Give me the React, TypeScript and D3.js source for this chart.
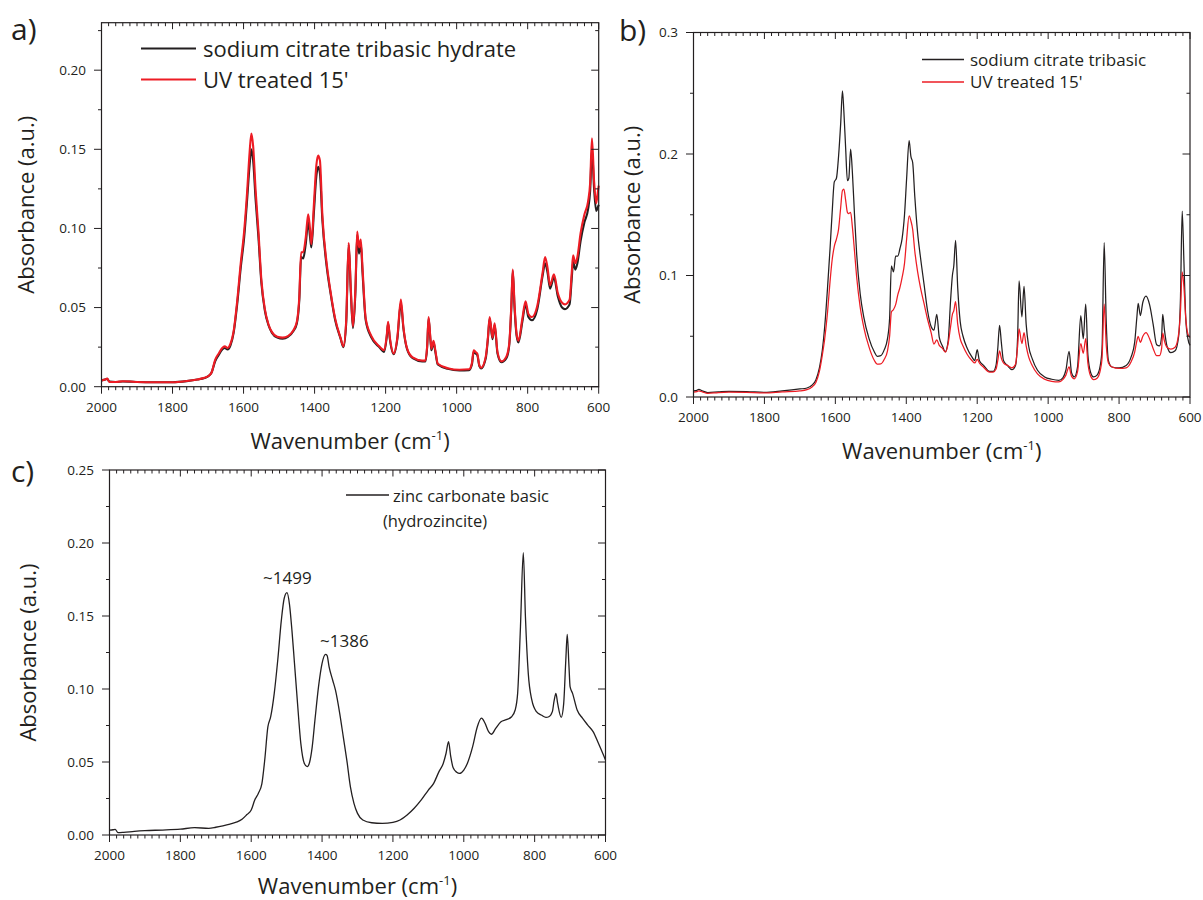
import React, { useRef, useEffect } from 'react'
import * as d3 from 'd3'

// ---- panel a: sodium citrate tribasic hydrate vs UV treated ----
const wnA = [
  2000, 1990, 1984, 1978, 1960, 1940, 1920, 1900, 1850, 1800, 1760, 1730, 1710, 1700, 1690, 1680,
  1670, 1660, 1653, 1645, 1637, 1628, 1618, 1608, 1598, 1590, 1583, 1578, 1573, 1566, 1558, 1550,
  1540, 1530, 1520, 1505, 1490, 1475, 1460, 1450, 1443, 1438, 1432, 1425, 1418, 1413, 1409, 1402,
  1395, 1390, 1385, 1378, 1366, 1355, 1342, 1327, 1319, 1311, 1304, 1298, 1292, 1285, 1280, 1275,
  1270, 1265, 1256, 1240, 1218, 1204, 1197, 1193, 1188, 1177, 1167, 1157, 1150, 1140, 1124, 1097,
  1088, 1083, 1079, 1074, 1071, 1065, 1060, 1053, 1025, 992, 965, 957, 952, 947, 942, 936,
  931, 918, 912, 907, 899, 893, 885, 874, 860, 852, 846, 842, 837, 831, 826, 815,
  806, 798, 788, 773, 758, 751, 744, 737, 726, 715, 703, 695, 682, 676, 672, 666,
  660, 651, 640, 630, 624, 619, 613, 607, 603, 600,
]
const citrateA = [
  0.004, 0.0045, 0.005, 0.0033, 0.003, 0.0033, 0.0032, 0.003, 0.0028, 0.0028, 0.0035, 0.0045, 0.0055, 0.0065, 0.009, 0.016,
  0.02, 0.0235, 0.0245, 0.0235, 0.026, 0.034, 0.052, 0.075, 0.095, 0.118, 0.14, 0.15, 0.143, 0.118, 0.094, 0.066,
  0.048, 0.039, 0.034, 0.031, 0.0303, 0.0315, 0.035, 0.04, 0.055, 0.082, 0.081, 0.09, 0.104, 0.095, 0.088, 0.11,
  0.133, 0.139, 0.135, 0.105, 0.076, 0.059, 0.042, 0.0305, 0.025, 0.04, 0.09, 0.06, 0.037, 0.06, 0.096, 0.084,
  0.091, 0.072, 0.042, 0.031, 0.025, 0.022, 0.031, 0.04, 0.03, 0.0205, 0.03, 0.053, 0.037, 0.024, 0.018, 0.016,
  0.016, 0.025, 0.043, 0.03, 0.023, 0.028, 0.022, 0.014, 0.0113, 0.0103, 0.0105, 0.014, 0.022, 0.021, 0.02, 0.013,
  0.0116, 0.018, 0.03, 0.043, 0.03, 0.039, 0.021, 0.0155, 0.018, 0.026, 0.05, 0.073, 0.05, 0.032, 0.028, 0.041,
  0.052, 0.044, 0.042, 0.049, 0.07, 0.078, 0.072, 0.062, 0.069, 0.057, 0.05, 0.049, 0.052, 0.068, 0.079, 0.074,
  0.078, 0.092, 0.104, 0.112, 0.124, 0.15, 0.125, 0.111, 0.113, 0.115,
]
const uvA = [
  0.004, 0.0045, 0.0052, 0.003, 0.003, 0.0034, 0.0033, 0.003, 0.0028, 0.0028, 0.0036, 0.0046, 0.0056, 0.0066, 0.009, 0.017,
  0.021, 0.0245, 0.0255, 0.0245, 0.027, 0.035, 0.054, 0.078, 0.099, 0.123, 0.148, 0.16, 0.152, 0.124, 0.098, 0.068,
  0.049, 0.0395, 0.0345, 0.0315, 0.031, 0.032, 0.0355, 0.041, 0.057, 0.085, 0.085, 0.094, 0.109, 0.1, 0.09, 0.115,
  0.14, 0.146, 0.143, 0.108, 0.078, 0.06, 0.043, 0.031, 0.0255, 0.042, 0.091, 0.062, 0.038, 0.062, 0.098, 0.088,
  0.093, 0.075, 0.043, 0.032, 0.0255, 0.023, 0.032, 0.041, 0.031, 0.021, 0.031, 0.055, 0.038, 0.0245, 0.0185, 0.0165,
  0.0165, 0.026, 0.044, 0.031, 0.024, 0.029, 0.023, 0.0145, 0.0117, 0.0107, 0.011, 0.015, 0.023, 0.022, 0.021, 0.0135,
  0.012, 0.019, 0.031, 0.044, 0.031, 0.04, 0.022, 0.016, 0.019, 0.027, 0.052, 0.074, 0.052, 0.033, 0.029, 0.043,
  0.054, 0.046, 0.044, 0.051, 0.072, 0.082, 0.075, 0.064, 0.071, 0.059, 0.053, 0.052, 0.055, 0.072, 0.083, 0.078,
  0.082, 0.097, 0.109, 0.117, 0.129, 0.157, 0.13, 0.116, 0.122, 0.127,
]

// ---- panel b: sodium citrate tribasic vs UV treated ----
const wnB = [
  2000, 1990, 1985, 1975, 1960, 1930, 1900, 1850, 1800, 1750, 1700, 1680, 1665, 1655, 1645, 1637,
  1630, 1622, 1615, 1609, 1603, 1597, 1591, 1585, 1580, 1576, 1571, 1566, 1562, 1557, 1552, 1546,
  1540, 1530, 1520, 1505, 1490, 1482, 1472, 1462, 1453, 1447, 1442, 1436, 1430, 1424, 1418, 1412,
  1405, 1399, 1392, 1387, 1382, 1376, 1368, 1360, 1350, 1340, 1330, 1322, 1314, 1307, 1298, 1290,
  1282, 1275, 1270, 1266, 1261, 1255, 1248, 1240, 1228, 1215, 1207, 1200, 1194, 1182, 1165, 1155,
  1147, 1142, 1137, 1132, 1126, 1115, 1102, 1092, 1086, 1082, 1074, 1068, 1062, 1055, 1045, 1030,
  1010, 990, 970, 958, 950, 941, 934, 926, 917, 908, 901, 894, 888, 880, 872, 862,
  853, 848, 842, 836, 830, 820, 800, 780, 766, 756, 750, 746, 740, 733, 724, 714,
  704, 694, 686, 680, 677, 672, 665, 654, 642, 632, 627, 622, 617, 612, 606, 600,
]
const citrateB = [
  0.005, 0.0055, 0.0063, 0.005, 0.0036, 0.0042, 0.0047, 0.0045, 0.0038, 0.005, 0.0066, 0.0074, 0.01, 0.014, 0.024, 0.038,
  0.058, 0.09, 0.122, 0.152, 0.177, 0.18, 0.198, 0.225, 0.252, 0.235, 0.205, 0.178, 0.18, 0.204, 0.185, 0.15,
  0.118, 0.085, 0.066, 0.048, 0.037, 0.0335, 0.034, 0.039, 0.048, 0.065, 0.108, 0.103, 0.116, 0.116, 0.122, 0.13,
  0.15, 0.18, 0.211, 0.198, 0.193, 0.165, 0.135, 0.115, 0.093, 0.071, 0.058, 0.055, 0.068, 0.049, 0.042, 0.0373,
  0.046, 0.08, 0.1, 0.108, 0.129, 0.09, 0.062, 0.05, 0.04, 0.033, 0.03, 0.039, 0.03, 0.026, 0.021, 0.021,
  0.026, 0.04, 0.059, 0.045, 0.03, 0.026, 0.0225, 0.026, 0.05, 0.0955, 0.066, 0.091, 0.06, 0.042, 0.0316, 0.022,
  0.0165, 0.0146, 0.0137, 0.016, 0.022, 0.0375, 0.02, 0.0165, 0.025, 0.067, 0.048, 0.0765, 0.035, 0.02, 0.0165, 0.018,
  0.026, 0.04, 0.127, 0.06, 0.03, 0.0247, 0.024, 0.026, 0.033, 0.045, 0.065, 0.077, 0.067, 0.078, 0.083, 0.076,
  0.06, 0.043, 0.042, 0.05, 0.068, 0.055, 0.042, 0.0365, 0.038, 0.05, 0.08, 0.153, 0.11, 0.065, 0.048, 0.0425,
]
const uvB = [
  0.004, 0.0045, 0.005, 0.0042, 0.003, 0.0037, 0.004, 0.0038, 0.0033, 0.0042, 0.005, 0.006, 0.0085, 0.012, 0.021, 0.034,
  0.048, 0.07, 0.095, 0.113, 0.124, 0.13, 0.138, 0.156, 0.17, 0.171, 0.162, 0.152, 0.151, 0.152, 0.14, 0.12,
  0.099, 0.074, 0.0576, 0.041, 0.03, 0.027, 0.0272, 0.031, 0.038, 0.05, 0.07, 0.072, 0.076, 0.084, 0.09, 0.098,
  0.11, 0.13, 0.149, 0.145, 0.138, 0.12, 0.103, 0.09, 0.077, 0.064, 0.053, 0.0435, 0.047, 0.0425, 0.04, 0.037,
  0.044, 0.058, 0.068, 0.071, 0.0785, 0.06, 0.048, 0.042, 0.035, 0.03, 0.028, 0.031, 0.028, 0.0245, 0.0205, 0.0205,
  0.023, 0.03, 0.038, 0.032, 0.028, 0.026, 0.024, 0.027, 0.042, 0.056, 0.044, 0.053, 0.042, 0.033, 0.026, 0.019,
  0.0146, 0.0129, 0.0124, 0.0145, 0.018, 0.0247, 0.017, 0.015, 0.021, 0.044, 0.036, 0.048, 0.028, 0.017, 0.0143, 0.0155,
  0.022, 0.032, 0.0765, 0.042, 0.028, 0.0247, 0.0235, 0.024, 0.029, 0.037, 0.046, 0.05, 0.045, 0.05, 0.053, 0.048,
  0.04, 0.034, 0.034, 0.04, 0.0525, 0.046, 0.041, 0.0395, 0.041, 0.052, 0.07, 0.103, 0.09, 0.065, 0.052, 0.049,
]

// ---- panel c: zinc carbonate basic (hydrozincite) ----
const wnC = [
  2000, 1990, 1984, 1976, 1960, 1930, 1900, 1850, 1800, 1760, 1720, 1700, 1680, 1660, 1640, 1625,
  1612, 1600, 1590, 1580, 1570, 1562, 1553, 1545, 1535, 1525, 1515, 1507, 1499, 1492, 1485, 1478,
  1470, 1460, 1450, 1442, 1435, 1428, 1420, 1410, 1400, 1390, 1386, 1380, 1370, 1362, 1350, 1340,
  1330, 1320, 1310, 1300, 1285, 1260, 1230, 1200, 1180, 1160, 1140, 1120, 1100, 1085, 1070, 1058,
  1050, 1043, 1037, 1030, 1020, 1012, 1000, 990, 975, 962, 950, 940, 930, 922, 910, 895,
  880, 865, 855, 848, 840, 832, 826, 818, 808, 795, 780, 768, 760, 750, 745, 740,
  735, 725, 718, 712, 708, 703, 700, 693, 680, 665, 650, 635, 620, 600,
]
const zincC = [
  0.0034, 0.0036, 0.0039, 0.0016, 0.0018, 0.0025, 0.003, 0.0034, 0.004, 0.005, 0.0046, 0.0053, 0.0063, 0.0075, 0.009, 0.011,
  0.014, 0.0171, 0.024, 0.0285, 0.035, 0.051, 0.074, 0.081, 0.097, 0.12, 0.147, 0.162, 0.166, 0.158, 0.14, 0.118,
  0.0925, 0.0628, 0.049, 0.0468, 0.05, 0.06, 0.079, 0.1016, 0.1176, 0.1237, 0.123, 0.115, 0.106, 0.099, 0.083, 0.067,
  0.051, 0.033, 0.0217, 0.0148, 0.0103, 0.0084, 0.008, 0.0087, 0.0103, 0.0137, 0.0183, 0.024, 0.0308, 0.0354, 0.0434, 0.049,
  0.056, 0.064, 0.054, 0.046, 0.043, 0.0422, 0.0445, 0.049, 0.0605, 0.074, 0.08, 0.0765, 0.0708, 0.069, 0.073, 0.0776,
  0.079, 0.081, 0.0856, 0.097, 0.1427, 0.1934, 0.1495, 0.1107, 0.0925, 0.0845, 0.082, 0.0806, 0.081, 0.0845, 0.092, 0.097,
  0.09, 0.0806, 0.09, 0.12, 0.1374, 0.115, 0.1016, 0.097, 0.0856, 0.08, 0.0753, 0.0708, 0.0628, 0.0514,
]

const peakLabels = [
  { text: '~1499', wn: 1498, y: 0.172 },
  { text: '~1386', wn: 1337, y: 0.129 },
]

const FONT = '"Open Sans", "Noto Sans", sans-serif'
const INK = '#231f20'
const RED = '#ed1c24'

function drawPanel(svg, p) {
  const x = d3.scaleLinear().domain([2000, 600]).range([p.left, p.right])
  const y = d3.scaleLinear().domain([0, p.yMax]).range([p.bottom, p.top])
  const g = svg.append('g')

  // spectra
  const line = d3.line().x(d => x(d[0])).y(d => y(d[1])).curve(d3.curveMonotoneX)
  p.series.forEach(s => {
    g.append('path')
      .datum(p.wn.map((w, i) => [w, s.values[i]]))
      .attr('d', line)
      .attr('fill', 'none')
      .attr('stroke', s.color)
      .attr('stroke-width', p.lineWidth)
      .attr('stroke-linejoin', 'round')
  })

  // frame
  g.append('rect')
    .attr('x', p.left).attr('y', p.top)
    .attr('width', p.right - p.left).attr('height', p.bottom - p.top)
    .attr('fill', 'none').attr('stroke', INK).attr('stroke-width', 1.2)

  // ticks: bottom/left outward, top/right inward
  const xMajor = d3.range(2000, 599, -200)
  const xMinor = d3.range(2000, 599, -20).filter(v => v % 200 !== 0)
  const tick = (x1, y1, x2, y2) => g.append('line')
    .attr('x1', x1).attr('y1', y1).attr('x2', x2).attr('y2', y2)
    .attr('stroke', INK).attr('stroke-width', 1)
  xMajor.forEach(v => { tick(x(v), p.bottom, x(v), p.bottom + 7); tick(x(v), p.top, x(v), p.top + 6.5) })
  xMinor.forEach(v => { tick(x(v), p.bottom, x(v), p.bottom + 3.5); tick(x(v), p.top, x(v), p.top + 3.5) })
  p.yMajor.forEach(v => { tick(p.left - 7.5, y(v), p.left, y(v)); tick(p.right - 7.5, y(v), p.right, y(v)) })
  p.yMinor.forEach(v => { tick(p.left - 3.5, y(v), p.left, y(v)); tick(p.right - 3.5, y(v), p.right, y(v)) })

  // tick labels
  g.selectAll('.xl').data(xMajor).enter().append('text')
    .attr('x', d => x(d)).attr('y', p.bottom + 25)
    .attr('text-anchor', 'middle')
    .attr('font-size', 13.5).attr('font-family', FONT).attr('fill', INK)
    .text(d => d)
  g.selectAll('.yl').data(p.yMajor).enter().append('text')
    .attr('x', p.left - 15.5).attr('y', d => y(d) + 4.8)
    .attr('text-anchor', 'end')
    .attr('font-size', 13.5).attr('font-family', FONT).attr('fill', INK)
    .text(d => d3.format(p.yFormat)(d))

  // axis titles
  const xt = g.append('text')
    .attr('x', (p.left + p.right) / 2).attr('y', p.bottom + p.xTitleDy)
    .attr('text-anchor', 'middle')
    .attr('font-size', 22).attr('font-family', FONT).attr('fill', INK)
  xt.append('tspan').text('Wavenumber (cm')
  xt.append('tspan').attr('font-size', 13).attr('dy', -9).text('-1')
  xt.append('tspan').attr('dy', 9).text(')')

  g.append('text')
    .attr('transform', `translate(${p.yTitleX},${(p.top + p.bottom) / 2}) rotate(-90)`)
    .attr('text-anchor', 'middle')
    .attr('font-size', 22).attr('font-family', FONT).attr('fill', INK)
    .text('Absorbance (a.u.)')

  // panel letter
  g.append('text')
    .attr('x', p.tagX).attr('y', p.tagY)
    .attr('font-size', 30).attr('font-family', FONT).attr('fill', INK)
    .text(p.tag)

  // legend
  p.legend.forEach(row => {
    if (row.color) {
      g.append('line')
        .attr('x1', row.x1).attr('x2', row.x2).attr('y1', row.y).attr('y2', row.y)
        .attr('stroke', row.color).attr('stroke-width', row.width)
    }
    g.append('text')
      .attr('x', row.tx).attr('y', row.y + row.dy)
      .attr('font-size', row.size).attr('font-family', FONT).attr('fill', INK)
      .text(row.label)
  })

  return { x, y, g }
}

function App() {
  const ref = useRef(null)

  useEffect(() => {
    const svg = d3.select(ref.current)
    svg.selectAll('*').remove()

    drawPanel(svg, {
      left: 101.5, right: 598.7, top: 22.7, bottom: 386.7, yMax: 0.23,
      yMajor: [0, 0.05, 0.1, 0.15, 0.2], yMinor: [0.025, 0.075, 0.125, 0.175, 0.225], yFormat: '.2f',
      wn: wnA, lineWidth: 2.1, xTitleDy: 62,
      series: [{ values: citrateA, color: INK }, { values: uvA, color: RED }],
      yTitleX: 34, tag: 'a)', tagX: 11, tagY: 40,
      legend: [
        { x1: 141, x2: 196, y: 48.5, color: INK, width: 2, tx: 203, dy: 8, size: 22, label: 'sodium citrate tribasic hydrate' },
        { x1: 141, x2: 196, y: 79.5, color: RED, width: 2, tx: 203, dy: 8, size: 22, label: "UV treated 15'" },
      ],
    })

    drawPanel(svg, {
      left: 693.5, right: 1190, top: 32.5, bottom: 397, yMax: 0.3,
      yMajor: [0, 0.1, 0.2, 0.3], yMinor: [0.05, 0.15, 0.25], yFormat: '.1f',
      wn: wnB, lineWidth: 1.25, xTitleDy: 62,
      series: [{ values: citrateB, color: INK }, { values: uvB, color: RED }],
      yTitleX: 640, tag: 'b)', tagX: 619, tagY: 41,
      legend: [
        { x1: 922, x2: 964, y: 59.5, color: INK, width: 1.3, tx: 970, dy: 6, size: 17, label: 'sodium citrate tribasic' },
        { x1: 922, x2: 964, y: 82, color: RED, width: 1.3, tx: 970, dy: 6, size: 17, label: "UV treated 15'" },
      ],
    })

    const c = drawPanel(svg, {
      left: 109.5, right: 605.5, top: 470, bottom: 835, yMax: 0.25,
      yMajor: [0, 0.05, 0.1, 0.15, 0.2, 0.25], yMinor: [0.025, 0.075, 0.125, 0.175, 0.225], yFormat: '.2f',
      wn: wnC, lineWidth: 1.3, xTitleDy: 59,
      series: [{ values: zincC, color: INK }],
      yTitleX: 36, tag: 'c)', tagX: 11, tagY: 482,
      legend: [
        { x1: 346, x2: 389, y: 495, color: INK, width: 1.3, tx: 393, dy: 6.5, size: 16.5, label: 'zinc carbonate basic' },
        { y: 520, tx: 383, dy: 6.5, size: 16.5, label: '(hydrozincite)' },
      ],
    })

    c.g.selectAll('.peak').data(peakLabels).enter().append('text')
      .attr('x', d => c.x(d.wn)).attr('y', d => c.y(d.y))
      .attr('text-anchor', 'middle')
      .attr('font-size', 17).attr('font-family', FONT).attr('fill', INK)
      .text(d => d.text)
  }, [])

  return (
    <svg ref={ref} width={1203} height={900}
      style={{ position: 'absolute', left: 0, top: 0, background: '#fff' }} />
  )
}

export default App
